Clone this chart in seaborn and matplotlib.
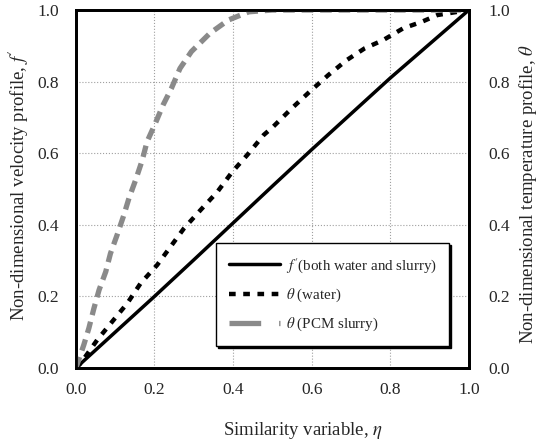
"""Similarity profiles: velocity f' and temperature theta for water and PCM slurry"""

import matplotlib
matplotlib.use("Agg")
import matplotlib.pyplot as plt
from matplotlib.lines import Line2D
import pandas as pd
import seaborn as sns

# data
ETA_F = [0.0, 0.1, 0.2, 0.3, 0.4, 0.5, 0.6, 0.7, 0.8, 0.9, 1.0]
F_PRIME = [0.0, 0.1, 0.2, 0.302, 0.405, 0.508, 0.61, 0.71, 0.81, 0.905, 1.0]

ETA_W = [0.0, 0.012, 0.054, 0.092, 0.131, 0.165, 0.207, 0.241, 0.275, 0.317,
         0.36, 0.398, 0.436, 0.478, 0.502, 0.549, 0.595, 0.642, 0.689, 0.735,
         0.782, 0.833, 0.88, 0.92, 1.0]
THETA_W = [0.0, 0.013, 0.078, 0.129, 0.181, 0.237, 0.288, 0.339, 0.39, 0.441,
           0.492, 0.548, 0.595, 0.651, 0.674, 0.725, 0.772, 0.818, 0.86, 0.893,
           0.916, 0.949, 0.967, 0.986, 1.0]

ETA_P = [0.0, 0.02, 0.033, 0.046, 0.059, 0.076, 0.088, 0.105, 0.122, 0.135,
         0.152, 0.169, 0.181, 0.202, 0.222, 0.243, 0.265, 0.294, 0.341, 0.388,
         0.44, 0.5, 0.6, 0.8, 1.0]
THETA_P = [0.0, 0.064, 0.111, 0.167, 0.218, 0.269, 0.32, 0.372, 0.427, 0.474,
           0.525, 0.581, 0.632, 0.683, 0.735, 0.781, 0.837, 0.884, 0.935, 0.972,
           0.995, 1.0, 1.0, 1.0, 1.0]

TICKS = [0.0, 0.2, 0.4, 0.6, 0.8, 1.0]
GRAY = "#8a8a8a"

sns.set_style("white")
plt.rcParams["font.family"] = ["Liberation Serif", "DejaVu Serif"]
plt.rcParams["mathtext.fontset"] = "stix"

fig = plt.figure(figsize=(5.42, 4.40), dpi=100)
ax = fig.add_axes([0.140, 0.1636, 0.725, 0.8136])

ax.grid(True, color="#a0a0a0", linestyle=":", linewidth=0.8)
ax.set_axisbelow(True)

df_f = pd.DataFrame({"eta": ETA_F, "val": F_PRIME})
df_w = pd.DataFrame({"eta": ETA_W, "val": THETA_W})
df_p = pd.DataFrame({"eta": ETA_P, "val": THETA_P})

sns.lineplot(data=df_f, x="eta", y="val", ax=ax, color="black", linewidth=2.5,
             sort=False, zorder=3)
sns.lineplot(data=df_w, x="eta", y="val", ax=ax, color="black", linewidth=3.2,
             linestyle=(0, (1.5, 1.7)), sort=False, zorder=3)
sns.lineplot(data=df_p, x="eta", y="val", ax=ax, color=GRAY, linewidth=3.8,
             linestyle=(0, (2.2, 1.3)), sort=False, zorder=3)

ax.set_xlim(0, 1)
ax.set_ylim(0, 1)
ax.set_xticks(TICKS)
ax.set_yticks(TICKS)
ax.set_xticklabels([f"{t:.1f}" for t in TICKS])
ax.set_yticklabels([f"{t:.1f}" for t in TICKS])
ax.tick_params(axis="x", labelsize=12.5, length=0, pad=10)
ax.tick_params(axis="y", labelsize=12.5, length=0, pad=12)
ax.set_xlabel(r"Similarity variable, $\eta$", fontsize=13.5)
ax.xaxis.set_label_coords(0.578, -0.145)
ax.set_ylabel(r"Non-dimensional velocity profile, $f'$", fontsize=13.5)
ax.yaxis.set_label_coords(-0.114, 0.51)
for s in ax.spines.values():
    s.set_color("black")
    s.set_linewidth(2)

ax2 = ax.twinx()
ax2.set_ylim(0, 1)
ax2.set_yticks(TICKS)
ax2.set_yticklabels([f"{t:.1f}" for t in TICKS])
ax2.tick_params(labelsize=12.5, length=0, pad=14)
ax2.set_ylabel(r"Non-dimensional temperature profile, $\theta$", fontsize=13.5,
               rotation=90)
ax2.yaxis.set_label_coords(1.122, 0.485)
for s in ax2.spines.values():
    s.set_color("black")
    s.set_linewidth(2)

handles = [
    Line2D([], [], color="black", linewidth=2.5),
    Line2D([], [], color="black", linewidth=3.2, linestyle=(0, (1.5, 1.7))),
    Line2D([], [], color=GRAY, linewidth=3.8, linestyle=(0, (6.0, 3.4, 1.8, 8))),
]
labels = [r"$f'$(both water and slurry)", r"$\theta$ (water)", r"$\theta$ (PCM slurry)"]
leg = ax.legend(handles, labels, loc="lower left", bbox_to_anchor=(0.356, 0.061),
                fontsize=10.8, frameon=True, fancybox=False,
                shadow={"color": "black", "alpha": 1, "ox": 1.5, "oy": -1.5},
                handlelength=3.4, handletextpad=0.4, labelspacing=0.8,
                borderpad=0.85, borderaxespad=0, edgecolor="black")
leg.get_frame().set_linewidth(1.0)

fig.savefig("out.png", dpi=100)
plt.close(fig)
